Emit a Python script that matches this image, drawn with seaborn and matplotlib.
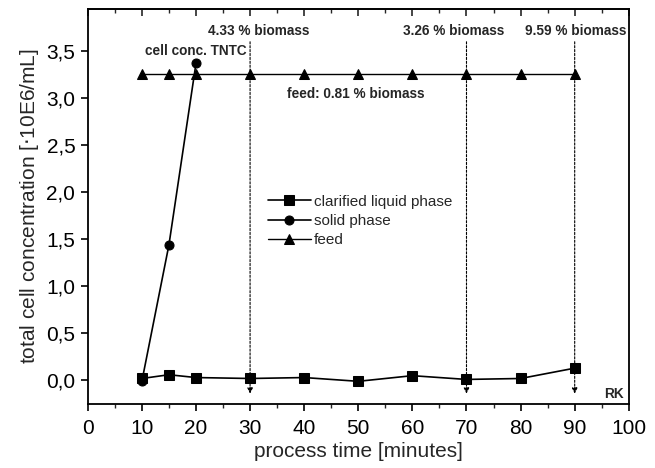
import numpy as np
import pandas as pd
import matplotlib
matplotlib.use("Agg")
import matplotlib.pyplot as plt
import seaborn as sns
from matplotlib.ticker import FuncFormatter, MultipleLocator

# data
time_clarified = [10, 15, 20, 30, 40, 50, 60, 70, 80, 90]
conc_clarified = [0.02, 0.06, 0.03, 0.02, 0.03, -0.01, 0.05, 0.01, 0.02, 0.13]

time_solid = [10, 15, 20]
conc_solid = [-0.01, 1.44, 3.37]

time_feed = [10, 15, 20, 30, 40, 50, 60, 70, 80, 90]
conc_feed = [3.26, 3.26, 3.26, 3.26, 3.26, 3.26, 3.26, 3.26, 3.26, 3.26]

sample_times = [30, 70, 90]
sample_labels = ["4.33 % biomass", "3.26 % biomass", "9.59 % biomass"]
label_x = [31.5, 67.6, 90.2]

sns.set_theme(style="ticks")
plt.rcParams["font.family"] = ["Liberation Sans", "DejaVu Sans"]

fig = plt.figure(figsize=(6.55, 4.68), dpi=100)
ax = fig.add_axes([0.134, 0.137, 0.826, 0.844])

sns.lineplot(x=time_clarified, y=conc_clarified, ax=ax, color="black", lw=1.2,
             marker="s", markersize=6.5, markeredgecolor="black",
             label="clarified liquid phase")
sns.lineplot(x=time_solid, y=conc_solid, ax=ax, color="black", lw=1.2,
             marker="o", markersize=6.5, markeredgecolor="black",
             label="solid phase")
sns.lineplot(x=time_feed, y=conc_feed, ax=ax, color="black", lw=1.0,
             marker="^", markersize=7, markeredgecolor="black",
             label="feed")

# dotted sampling arrows
for t, lx, lab in zip(sample_times, label_x, sample_labels):
    ax.annotate("", xy=(t, -0.17), xytext=(t, 3.63),
                arrowprops=dict(arrowstyle="-|>", color="black", lw=0.8,
                                linestyle=(0, (2, 1.5)), mutation_scale=8))
    ax.text(lx, 3.71, lab, ha="center", va="center", fontsize=9.8,
            fontweight="bold")

ax.text(29.3, 3.5, "cell conc. TNTC", ha="right", va="center", fontsize=9.8,
        fontweight="bold")
ax.text(49.6, 3.04, "feed: 0.81 % biomass", ha="center", va="center",
        fontsize=9.8, fontweight="bold")
ax.text(97.2, -0.15, "RK", ha="center", va="center", fontsize=9.8,
        fontweight="bold")

ax.set_xlim(0, 100)
ax.set_ylim(-0.25, 3.95)
ax.xaxis.set_major_locator(MultipleLocator(10))
ax.xaxis.set_minor_locator(MultipleLocator(5))
ax.yaxis.set_major_locator(MultipleLocator(0.5))
ax.yaxis.set_major_formatter(FuncFormatter(lambda v, p: f"{v:.1f}".replace(".", ",")))

ax.tick_params(axis="both", which="major", direction="out", length=5,
               width=1.2, labelsize=15, colors="black", pad=4)
ax.tick_params(axis="x", which="major", pad=6)
ax.tick_params(axis="x", which="minor", direction="out", length=3,
               width=1.0)
top = ax.secondary_xaxis("top")
top.xaxis.set_major_locator(MultipleLocator(10))
top.xaxis.set_minor_locator(MultipleLocator(5))
top.tick_params(which="major", direction="in", length=5, width=1.2,
                labeltop=False)
top.tick_params(which="minor", direction="in", length=3, width=1.0)

for s in ax.spines.values():
    s.set_linewidth(1.3)
    s.set_color("black")
top.spines["top"].set_linewidth(1.3)

ax.set_xlabel("process time [minutes]", fontsize=15, labelpad=3)
ax.set_ylabel("total cell concentration [$\\cdot$10E6/mL]", fontsize=15,
              labelpad=4)

ax.legend(loc="upper left", bbox_to_anchor=(0.322, 0.545), frameon=False,
          fontsize=11, handlelength=2.8, handletextpad=0.2, labelspacing=0.35,
          borderaxespad=0)

fig.savefig("out.png", dpi=100)
